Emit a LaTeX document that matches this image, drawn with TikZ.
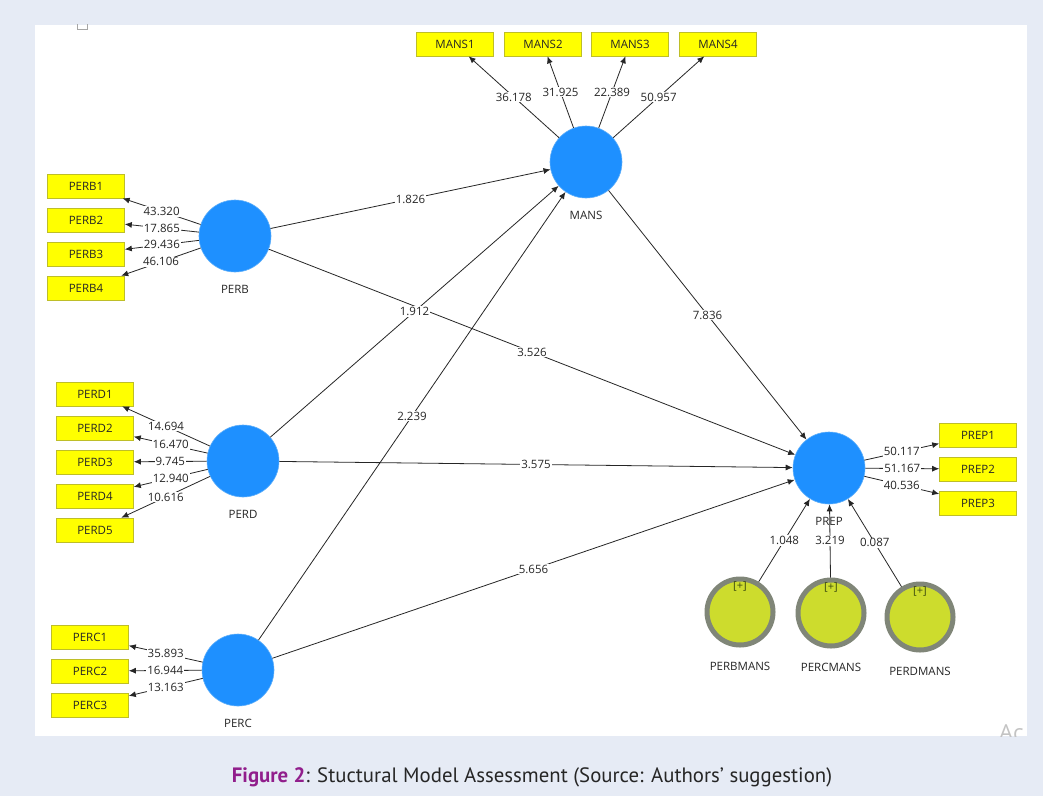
\documentclass[tikz,border=0pt]{standalone}
\usepackage{fontspec}
\setmainfont{Open Sans}
\newfontfamily\capfont{PT Sans}
\usetikzlibrary{positioning,arrows.meta}

\definecolor{lvblue}{RGB}{30,144,255}
\definecolor{lvedge}{RGB}{95,175,250}
\definecolor{indyellow}{RGB}{255,255,0}
\definecolor{indedge}{RGB}{190,190,40}
\definecolor{modgreen}{RGB}{205,220,45}
\definecolor{modedge}{RGB}{128,134,120}
\definecolor{plusgreen}{RGB}{60,75,15}
\definecolor{pagebg}{RGB}{230,235,245}
\definecolor{figpurple}{RGB}{145,30,140}
\definecolor{wmgray}{RGB}{195,195,195}

\begin{document}
\begin{tikzpicture}[x=1pt,y=-1pt,
    font=\fontsize{11.5}{13}\selectfont,
    >={Latex[length=7pt,width=6pt]},
    node distance=34pt,
    lv/.style={circle,fill=lvblue,draw=lvedge,line width=0.6pt,minimum size=72pt,inner sep=0pt},
    ind/.style={rectangle,fill=indyellow,draw=indedge,line width=0.6pt,minimum width=77pt,minimum height=24pt,inner sep=0pt,text=black!85},
    modc/.style={circle,fill=modgreen,draw=modedge,line width=5pt,minimum size=66pt,inner sep=0pt},
    plussign/.style={text=plusgreen,font=\fontsize{11}{12}\selectfont,inner sep=0pt},
    lbl/.style={label distance=9.5pt,text=black!85},
    modlbl/.style={label distance=11pt,text=black!85},
    conn/.style={->,black!85,line width=0.8pt},
    val/.style={fill=white,inner sep=1pt,text=black!85}]

  % page and panel
  \fill[pagebg] (0,0) rectangle (1043,796);
  \fill[white] (35,25) rectangle (1027,736);
  \draw[gray!70,line width=0.8pt] (77.5,24) -- (77.5,29.5) -- (87.5,29.5) -- (87.5,24);
  \begin{scope}
    \clip (35,25) rectangle (1027,736);
    \node[text=wmgray,font=\fontsize{22}{24}\selectfont,anchor=base west,inner sep=0pt] (wm) at (999,740) {Ac};
  \end{scope}

  % constructs
  \node[lv,label={[lbl]below:MANS}] (mans) at (586,162) {};
  \node[lv,label={[lbl]below:PERB}] (perb) at (235,236) {};
  \node[lv,label={[lbl]below:PERD}] (perd) at (243,461) {};
  \node[lv,label={[lbl]below:PERC}] (perc) at (238,670) {};
  \node[lv,label={[lbl]below:PREP}] (prep) at (829,468) {};

  % indicators
  \node[ind] (mans1) at (455,44) {MANS1};
  \node[ind,right of=mans1,node distance=88pt] (mans2) {MANS2};
  \node[ind,right of=mans2,node distance=87pt] (mans3) {MANS3};
  \node[ind,right of=mans3,node distance=88pt] (mans4) {MANS4};

  \node[ind] (perb1) at (86,186) {PERB1};
  \node[ind,below of=perb1] (perb2) {PERB2};
  \node[ind,below of=perb2] (perb3) {PERB3};
  \node[ind,below of=perb3] (perb4) {PERB4};

  \node[ind] (perd1) at (95,394) {PERD1};
  \node[ind,below of=perd1] (perd2) {PERD2};
  \node[ind,below of=perd2] (perd3) {PERD3};
  \node[ind,below of=perd3] (perd4) {PERD4};
  \node[ind,below of=perd4] (perd5) {PERD5};

  \node[ind] (perc1) at (90,637) {PERC1};
  \node[ind,below of=perc1] (perc2) {PERC2};
  \node[ind,below of=perc2] (perc3) {PERC3};

  \node[ind] (prep1) at (978,435) {PREP1};
  \node[ind,below of=prep1] (prep2) {PREP2};
  \node[ind,below of=prep2] (prep3) {PREP3};

  % moderators
  \node[modc,label={[modlbl]below:PERBMANS}] (perbmans) at (740,612) {};
  \node[modc,label={[modlbl]below:PERCMANS}] (percmans) at (831,613) {};
  \node[modc,label={[modlbl]below:PERDMANS}] (perdmans) at (920,617) {};
  \node[plussign,below=5pt of perbmans.north] (perbmansplus) {[+]};
  \node[plussign,below=5pt of percmans.north] (percmansplus) {[+]};
  \node[plussign,below=5pt of perdmans.north] (perdmansplus) {[+]};

  % outer loadings
  \draw[conn] (mans) -- node[val] {36.178} (mans1);
  \draw[conn] (mans) -- node[val] {31.925} (mans2);
  \draw[conn] (mans) -- node[val] {22.389} (mans3);
  \draw[conn] (mans) -- node[val] {50.957} (mans4);

  \draw[conn] (perb) -- node[val] {43.320} (perb1);
  \draw[conn] (perb) -- node[val] {17.865} (perb2);
  \draw[conn] (perb) -- node[val] {29.436} (perb3);
  \draw[conn] (perb) -- node[val] {46.106} (perb4);

  \draw[conn] (perd) -- node[val] {14.694} (perd1);
  \draw[conn] (perd) -- node[val] {16.470} (perd2);
  \draw[conn] (perd) -- node[val] {9.745} (perd3);
  \draw[conn] (perd) -- node[val] {12.940} (perd4);
  \draw[conn] (perd) -- node[val] {10.616} (perd5);

  \draw[conn] (perc) -- node[val] {35.893} (perc1);
  \draw[conn] (perc) -- node[val] {16.944} (perc2);
  \draw[conn] (perc) -- node[val] {13.163} (perc3);

  \draw[conn] (prep) -- node[val] {50.117} (prep1);
  \draw[conn] (prep) -- node[val] {51.167} (prep2);
  \draw[conn] (prep) -- node[val] {40.536} (prep3);

  % inner model
  \draw[conn] (perb) -- node[val] {1.826} (mans);
  \draw[conn] (perb) -- node[val] {3.526} (prep);
  \draw[conn] (perd) -- node[val] {1.912} (mans);
  \draw[conn] (perd) -- node[val] {3.575} (prep);
  \draw[conn] (perc) -- node[val] {2.239} (mans);
  \draw[conn] (perc) -- node[val] {5.656} (prep);
  \draw[conn] (mans) -- node[val] {7.836} (prep);

  \draw[conn] (perbmans) -- node[val] {1.048} (prep);
  \draw[conn] (percmans) -- node[val] {3.219} (prep);
  \draw[conn] (perdmans) -- node[val] {0.087} (prep);

  % caption
  \node[font=\capfont\fontsize{20.8}{24}\selectfont,text=black!85,anchor=base] (caption) at (532,782)
    {\textcolor{figpurple}{\textbf{Figure 2}}: Stuctural Model Assessment (Source: Authors’ suggestion)};
\end{tikzpicture}
\end{document}
